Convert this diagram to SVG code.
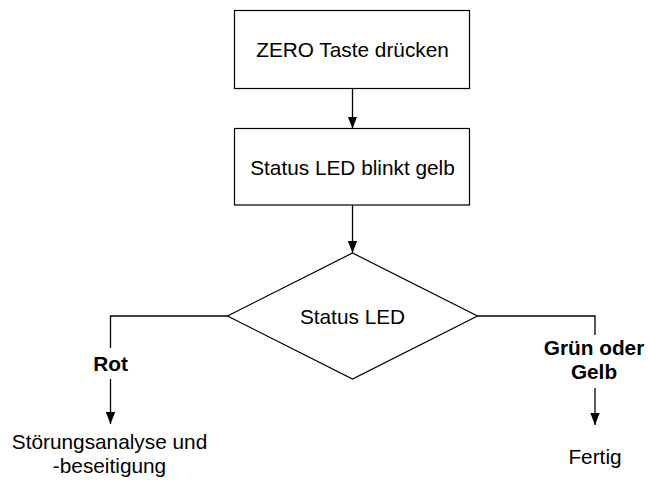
<svg xmlns="http://www.w3.org/2000/svg" width="648" height="483" viewBox="0 0 648 483">
  <style>
    .box { fill: #ffffff; stroke: #000000; stroke-width: 1.2; }
    .edge { fill: none; stroke: #000000; stroke-width: 1.3; }
    .lbl { font-family: "Liberation Sans", Arial, sans-serif; font-size: 20.8px; fill: #000000; text-anchor: middle; }
    .bold { font-weight: bold; }
  </style>
  <defs>
    <marker id="arrow" markerUnits="userSpaceOnUse" markerWidth="12" markerHeight="14" viewBox="0 0 12 14" refX="12" refY="7" orient="auto">
      <path d="M0,2.3 L12,7 L0,11.7 Z" fill="#000000"/>
    </marker>
  </defs>
  <rect width="648" height="483" fill="#ffffff"/>

  <g id="connectors">
    <line class="edge" x1="352.5" y1="88.5" x2="352.5" y2="128.5" marker-end="url(#arrow)"/>
    <line class="edge" x1="352.5" y1="205" x2="352.5" y2="253" marker-end="url(#arrow)"/>
    <polyline class="edge" points="227.5,316 110.5,316 110.5,348"/>
    <line class="edge" x1="110.5" y1="379" x2="110.5" y2="424" marker-end="url(#arrow)"/>
    <polyline class="edge" points="477.5,316 595,316 595,335"/>
    <line class="edge" x1="595" y1="388" x2="595" y2="425" marker-end="url(#arrow)"/>
    <text class="lbl bold" x="110.5" y="371">Rot</text>
    <text class="lbl bold" x="594" y="355">Grün oder</text>
    <text class="lbl bold" x="594" y="379">Gelb</text>
  </g>

  <g id="zero-taste">
    <rect class="box" x="234.5" y="10.5" width="235" height="78"/>
    <text class="lbl" x="352.5" y="56.5">ZERO Taste drücken</text>
  </g>

  <g id="status-blinkt">
    <rect class="box" x="234.5" y="128.5" width="235" height="76.5"/>
    <text class="lbl" x="352.5" y="174.5">Status LED blinkt gelb</text>
  </g>

  <g id="status-led">
    <polygon class="box" points="352.5,253 477.5,316 352.5,379 227.5,316"/>
    <text class="lbl" x="352.5" y="323.5">Status LED</text>
  </g>

  <g id="stoerung">
    <text class="lbl" x="109.5" y="448.5">Störungsanalyse und</text>
    <text class="lbl" x="109.5" y="473">-beseitigung</text>
  </g>

  <g id="fertig">
    <text class="lbl" x="595" y="464">Fertig</text>
  </g>
</svg>
